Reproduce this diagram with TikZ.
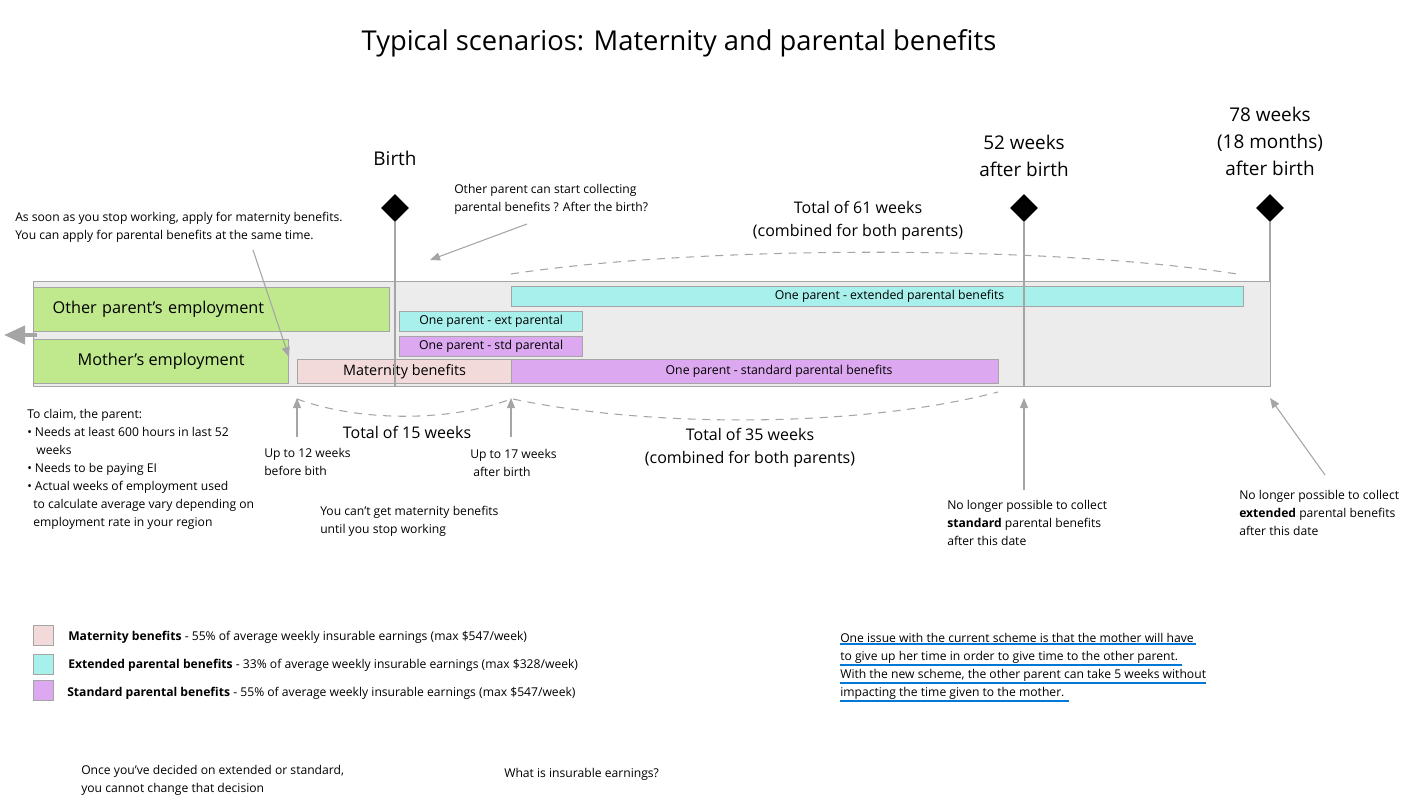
\documentclass[tikz,border=0pt]{standalone}
\usepackage{fontspec}
\setmainfont{Open Sans}
\usetikzlibrary{shapes.geometric,arrows.meta}

\definecolor{empgreen}{RGB}{191,233,140}
\definecolor{matpink}{RGB}{242,218,218}
\definecolor{extcyan}{RGB}{168,240,236}
\definecolor{stdpurple}{RGB}{220,168,240}
\definecolor{bggray}{RGB}{236,236,236}
\definecolor{linegray}{RGB}{165,165,165}
\definecolor{spellblue}{RGB}{0,120,215}

\newcommand{\smalltxt}{\fontsize{9.1}{13.5}\selectfont}
\newcommand{\midtxt}{\fontsize{12}{17.25}\selectfont}
\newcommand{\bigtxt}{\fontsize{14.2}{20.25}\selectfont}

\begin{document}
\begin{tikzpicture}[x=0.75pt, y=-0.75pt,
  bar/.style={draw=linegray, line width=0.9pt, anchor=north west, inner sep=0pt, font=\fontsize{9.2}{11}\selectfont},
  barsize/.style 2 args={minimum width=#1*0.75pt, minimum height=#2*0.75pt},
  note/.style={anchor=base west, align=left, inner sep=0pt, font=\smalltxt},
  milestone/.style={diamond, fill=black, minimum size=21pt, inner sep=0pt},
  stem/.style={draw=linegray, line width=1.1pt},
  pointer/.style={draw=linegray, line width=0.8pt, -{Triangle[length=7.5pt,width=6pt]}},
  spanarc/.style={draw=linegray, line width=0.8pt, dash pattern=on 6pt off 5pt},
  keybox/.style={draw=linegray, line width=0.8pt, anchor=north west, minimum size=15pt, inner sep=0pt},
  spell/.style={draw=spellblue, line width=1.5pt}
]
\useasboundingbox (0,0) rectangle (1418,809);

\node[font=\fontsize{20.5}{24}\selectfont] (title) at (679,43) {Typical scenarios: Maternity and parental benefits};

% timeline
\node[bar, fill=bggray, barsize={1237}{105}] (timeline) at (33,281) {};
\node[bar, fill=empgreen, minimum height=33pt, inner xsep=14.25pt, text width=238.5pt, align=left,
  font=\fontsize{12.2}{15}\selectfont] (otheremp) at (33,287) {Other parent’s employment};
\node[bar, fill=empgreen, barsize={255}{44}, font=\fontsize{12.2}{15}\selectfont] (motheremp) at (33,339) {Mother’s employment};
\node[bar, fill=matpink, barsize={214}{24}, font=\fontsize{10.8}{12}\selectfont] (maternity) at (297,359) {Maternity benefits};
\node[bar, fill=stdpurple, barsize={487}{24}] (stdlong) at (511,359) {\hspace*{36pt}One parent - standard parental benefits};
\node[bar, fill=extcyan, barsize={183}{20}] (extshort) at (399,311) {One parent - ext parental};
\node[bar, fill=stdpurple, barsize={183}{20}] (stdshort) at (399,336) {One parent - std parental};
\node[bar, fill=extcyan, barsize={732}{20}] (extlong) at (511,286) {\hspace*{18pt}One parent - extended parental benefits};

\coordinate (leftstart) at (37,335);
\coordinate (leftend) at (4,335);
\draw[draw=linegray, line width=3pt, -{Triangle[length=15.75pt,width=13.5pt]}] (leftstart) -- (leftend);

% milestones
\node[milestone] (birth) at (395,208) {};
\node[milestone] (week52) at (1024,208) {};
\node[milestone] (week78) at (1270,208) {};
\coordinate (birthfoot) at (395,386);
\coordinate (week52foot) at (1024,386);
\coordinate (week78foot) at (1270,281);
\draw[stem] (birth.south) -- (birthfoot);
\draw[stem] (week52.south) -- (week52foot);
\draw[stem] (week78.south) -- (week78foot);

\node[font=\bigtxt] (birthlabel) at (395,158) {Birth};
\node[font=\bigtxt, align=center] (week52label) at (1024,155.5) {52 weeks\\after birth};
\node[font=\bigtxt, align=center] (week78label) at (1270,141) {78 weeks\\(18 months)\\after birth};

% spans
\coordinate (arc61a) at (511,274);
\coordinate (arc61b) at (1237,274);
\draw[spanarc] (arc61a) .. controls (700,245) and (1050,245) .. (arc61b);
\node[font=\midtxt, align=center] (total61) at (858,220.5) {Total of 61 weeks\\(combined for both parents)};

\coordinate (arc15a) at (297,399);
\coordinate (arc15b) at (511,399);
\draw[spanarc] (arc15a) .. controls (360,422) and (450,422) .. (arc15b);
\node[font=\midtxt] (total15) at (407,432) {Total of 15 weeks};

\coordinate (arc35a) at (513,399);
\coordinate (arc35b) at (998,392);
\draw[spanarc] (arc35a) .. controls (650,428) and (860,428) .. (arc35b);
\node[font=\midtxt, align=center] (total35) at (750,447.5) {Total of 35 weeks\\(combined for both parents)};

% notes (placed by the baseline of their last line)
\node[note] (applynote) at (15,240) {As soon as you stop working, apply for maternity benefits.\\You can apply for parental benefits at the same time.};
\node[note] (othernote) at (454,212) {Other parent can start collecting\\parental benefits ? After the birth?};
\node[note] (claimnote) at (27,526) {To claim, the parent:\\
  • Needs at least 600 hours in last 52\\
  \hspace*{0.75em}weeks\\
  • Needs to be paying EI\\
  • Actual weeks of employment used\\
  \hspace*{0.5em}to calculate average vary depending on\\
  \hspace*{0.5em}employment rate in your region};
\node[note] (twelvenote) at (264,475) {Up to 12 weeks\\before bith};
\node[note] (seventeennote) at (470,476) {Up to 17 weeks\\\hspace*{0.25em}after birth};
\node[note] (cantnote) at (320,533) {You can’t get maternity benefits\\until you stop working};
\node[note] (stdnote) at (947,545) {No longer possible to collect\\\textbf{standard} parental benefits\\after this date};
\node[note] (extnote) at (1239,535) {No longer possible to collect\\\textbf{extended} parental benefits\\after this date};

\coordinate (applytip) at (253,250);
\coordinate (othertip) at (527,224);
\coordinate (twelvetail) at (297,437);
\coordinate (seventeentail) at (511,437);
\coordinate (stdtail) at (1024,490);
\coordinate (exttail) at (1325,475);
\draw[pointer] (applytip) -- (289,357);
\draw[pointer] (othertip) -- (430,260);
\draw[pointer] (twelvetail) -- (297,398);
\draw[pointer] (seventeentail) -- (511,398);
\draw[pointer] (stdtail) -- (1024,398);
\draw[pointer] (exttail) -- (1270,398);

% legend
\node[keybox, fill=matpink] (keymat) at (33,625) {};
\node[keybox, fill=extcyan] (keyext) at (33,654) {};
\node[keybox, fill=stdpurple] (keystd) at (33,680) {};
\node[note] (keymattext) at (68,640) {\textbf{Maternity benefits} - 55\% of average weekly insurable earnings (max \$547/week)};
\node[note] (keyexttext) at (68,668) {\textbf{Extended parental benefits} - 33\% of average weekly insurable earnings (max \$328/week)};
\node[note] (keystdtext) at (67,696) {\textbf{Standard parental benefits} - 55\% of average weekly insurable earnings (max \$547/week)};

% comment on the scheme
\node[note] (issue1) at (840,642) {One issue with the current scheme is that the mother will have\,};
\node[note] (issue2) at (840,660) {to give up her time in order to give time to the other parent.\,\,};
\node[note] (issue3) at (840,678) {With the new scheme, the other parent can take 5 weeks without};
\node[note] (issue4) at (840,696) {impacting the time given to the mother.\,\,};
\foreach \n in {issue1,issue2,issue3,issue4}
  \draw[spell] ([yshift=-1pt]\n.south west) -- ([yshift=-1pt]\n.south east);

\node[note] (decidenote) at (81,792) {Once you’ve decided on extended or standard,\\you cannot change that decision};
\node[note] (insurnote) at (504,777) {What is insurable earnings?};
\end{tikzpicture}
\end{document}
